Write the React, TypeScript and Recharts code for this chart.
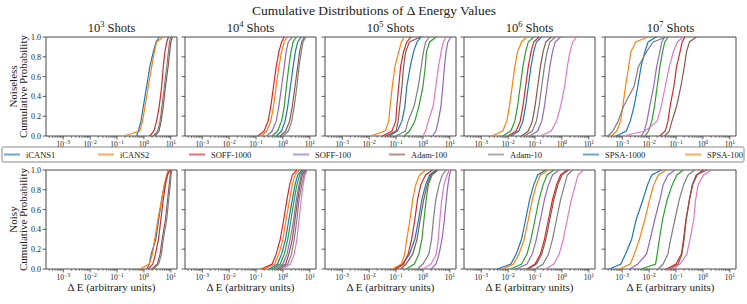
import { LineChart, Line, XAxis, YAxis, ReferenceArea } from 'recharts'

// cumulative probability levels at which each curve is sampled
const levels = [0, 0.05, 0.15, 0.3, 0.5, 0.7, 0.85, 0.95, 1]

// log10(ΔE) read at each level, per panel and line colour
const noiseless1e3 = {
  C0: [-0.27, -0.21, -0.11, -0.02, 0.1, 0.22, 0.35, 0.45, 0.57],
  C1: [-0.77, -0.15, -0.05, 0.04, 0.16, 0.29, 0.39, 0.47, 0.72],
  C3: [0.22, 0.37, 0.47, 0.57, 0.66, 0.72, 0.78, 0.85, 0.91],
  C5: [0.41, 0.56, 0.64, 0.72, 0.8, 0.9, 0.96, 1.0, 1.06],
  C7: [0.35, 0.51, 0.6, 0.67, 0.76, 0.85, 0.91, 0.95, 1.0],
}
const noiseless1e4 = {
  C3: [-0.93, -0.7, -0.55, -0.45, -0.35, -0.25, -0.15, -0.05, 0.05],
  C1: [-0.8, -0.6, -0.45, -0.35, -0.25, -0.15, -0.05, 0.05, 0.15],
  C4: [-0.6, -0.4, -0.25, -0.15, -0.05, 0.05, 0.12, 0.2, 0.35],
  C2: [-0.4, -0.2, -0.05, 0.05, 0.13, 0.22, 0.3, 0.38, 0.5],
  C0: [-0.25, -0.05, 0.08, 0.18, 0.28, 0.38, 0.46, 0.55, 0.68],
  C5: [-0.1, 0.1, 0.25, 0.35, 0.45, 0.55, 0.62, 0.7, 0.8],
  C7: [0.0, 0.2, 0.33, 0.42, 0.52, 0.6, 0.68, 0.75, 0.85],
}
const noiseless1e5 = {
  C0: [-1.26, -0.95, -0.78, -0.67, -0.6, -0.47, -0.35, -0.22, -0.07],
  C1: [-1.94, -1.4, -1.27, -1.22, -1.14, -1.04, -0.9, -0.8, -0.7],
  C2: [-0.7, -0.5, -0.3, -0.15, 0.0, 0.09, 0.13, 0.25, 0.49],
  C3: [-1.5, -1.15, -1.01, -0.97, -0.9, -0.83, -0.72, -0.6, -0.45],
  C4: [0.36, 0.48, 0.57, 0.67, 0.74, 0.8, 0.86, 0.93, 1.04],
  C5: [-1.38, -1.0, -0.92, -0.86, -0.78, -0.72, -0.64, -0.5, -0.1],
  C6: [0.0, 0.1, 0.2, 0.38, 0.48, 0.58, 0.68, 0.76, 0.86],
  C7: [-1.0, -0.65, -0.55, -0.33, -0.17, -0.06, 0.02, 0.1, 0.24],
}
const noiseless1e6 = {
  C0: [-1.9, -1.6, -1.45, -1.35, -1.25, -1.15, -1.05, -0.95, -0.75],
  C1: [-2.6, -2.2, -2.05, -1.95, -1.85, -1.75, -1.65, -1.5, -1.3],
  C2: [-2.2, -1.9, -1.75, -1.65, -1.55, -1.45, -1.35, -1.25, -1.05],
  C3: [-2.0, -1.7, -1.55, -1.45, -1.35, -1.25, -1.15, -1.05, -0.85],
  C4: [-1.2, -0.9, -0.75, -0.65, -0.55, -0.45, -0.35, -0.25, -0.05],
  C5: [-1.5, -1.25, -1.1, -1.0, -0.9, -0.8, -0.7, -0.6, -0.4],
  C6: [-0.8, -0.4, -0.2, -0.05, 0.1, 0.2, 0.3, 0.4, 0.55],
  C7: [-1.4, -1.1, -0.95, -0.85, -0.75, -0.65, -0.55, -0.45, -0.25],
}
const noiseless1e7 = {
  C0: [-3.22, -2.85, -2.7, -2.56, -2.42, -2.3, -2.16, -2.04, -1.73],
  C1: [-3.41, -3.2, -3.06, -2.98, -2.88, -2.76, -2.68, -2.5, -2.04],
  C2: [-2.16, -2.02, -1.9, -1.8, -1.7, -1.6, -1.5, -1.42, -1.29],
  C3: [-1.6, -1.4, -1.3, -1.22, -1.08, -0.98, -0.85, -0.77, -0.67],
  C4: [-2.29, -2.18, -2.08, -1.98, -1.83, -1.72, -1.6, -1.53, -1.42],
  C5: [-1.42, -1.25, -1.15, -0.98, -0.82, -0.69, -0.61, -0.5, -0.24],
  C6: [-2.97, -2.15, -1.7, -1.55, -1.4, -1.25, -1.1, -0.95, -0.73],
  C7: [-3.53, -3.35, -3.15, -2.95, -2.56, -2.4, -2.1, -1.85, -1.36],
}
const noisy1e3 = {
  C0: [0.1, 0.2, 0.27, 0.44, 0.55, 0.66, 0.76, 0.85, 0.91],
  C1: [-0.15, 0.2, 0.32, 0.4, 0.52, 0.66, 0.76, 0.86, 0.91],
  C3: [0.16, 0.33, 0.43, 0.54, 0.63, 0.72, 0.8, 0.88, 0.97],
  C5: [0.3, 0.5, 0.6, 0.68, 0.8, 0.88, 0.94, 0.98, 1.0],
  C7: [0.35, 0.55, 0.65, 0.72, 0.85, 0.92, 0.98, 1.01, 1.04],
}
const noisy1e4 = {
  C0: [-0.5, -0.2, -0.05, 0.1, 0.22, 0.35, 0.45, 0.55, 0.72],
  C1: [-0.7, -0.3, -0.15, 0.0, 0.12, 0.25, 0.35, 0.45, 0.62],
  C2: [-0.4, -0.1, 0.05, 0.18, 0.3, 0.42, 0.52, 0.62, 0.78],
  C3: [-0.8, -0.4, -0.25, -0.1, 0.03, 0.15, 0.25, 0.35, 0.52],
  C4: [-0.3, 0.0, 0.15, 0.27, 0.4, 0.5, 0.6, 0.68, 0.82],
  C5: [-0.2, 0.1, 0.22, 0.35, 0.45, 0.55, 0.64, 0.72, 0.86],
  C6: [0.0, 0.28, 0.42, 0.52, 0.6, 0.68, 0.75, 0.82, 0.9],
  C7: [-0.1, 0.18, 0.32, 0.42, 0.52, 0.6, 0.7, 0.78, 0.88],
}
const noisy1e5 = {
  C0: [-1.07, -0.76, -0.5, -0.3, -0.16, -0.04, 0.1, 0.25, 0.49],
  C1: [-1.13, -0.8, -0.68, -0.6, -0.48, -0.38, -0.27, -0.12, 0.11],
  C2: [-0.63, -0.32, -0.15, -0.04, 0.04, 0.12, 0.2, 0.34, 0.55],
  C3: [-1.0, -0.72, -0.55, -0.42, -0.3, -0.2, -0.08, 0.1, 0.36],
  C4: [0.3, 0.49, 0.6, 0.71, 0.8, 0.87, 0.93, 0.99, 1.04],
  C5: [-0.82, -0.63, -0.38, -0.22, -0.1, 0.03, 0.16, 0.3, 0.55],
  C6: [0.0, 0.3, 0.5, 0.57, 0.63, 0.7, 0.78, 0.9, 0.98],
  C7: [-0.2, 0.0, 0.22, 0.32, 0.39, 0.48, 0.6, 0.72, 0.86],
}
const noisy1e6 = {
  C0: [-2.4, -1.9, -1.7, -1.5, -1.35, -1.2, -1.05, -0.9, -0.6],
  C1: [-2.2, -1.8, -1.6, -1.4, -1.25, -1.1, -0.95, -0.8, -0.5],
  C2: [-1.9, -1.5, -1.3, -1.15, -1.0, -0.85, -0.7, -0.55, -0.3],
  C3: [-1.3, -1.0, -0.8, -0.65, -0.5, -0.35, -0.2, -0.05, 0.2],
  C4: [-1.7, -1.3, -1.1, -0.95, -0.8, -0.65, -0.5, -0.35, -0.1],
  C5: [-1.25, -0.95, -0.75, -0.6, -0.45, -0.3, -0.15, 0.0, 0.25],
  C6: [-0.6, -0.3, -0.1, 0.05, 0.2, 0.35, 0.5, 0.6, 0.8],
  C7: [-1.0, -0.7, -0.5, -0.35, -0.2, -0.05, 0.1, 0.2, 0.4],
}
const noisy1e7 = {
  C0: [-3.47, -3.05, -2.88, -2.65, -2.48, -2.23, -2.06, -1.9, -1.54],
  C1: [-3.1, -2.7, -2.55, -2.36, -2.16, -1.98, -1.83, -1.66, -1.36],
  C2: [-2.29, -1.76, -1.7, -1.62, -1.5, -1.33, -1.14, -0.97, -0.73],
  C3: [-1.36, -1.0, -0.8, -0.72, -0.63, -0.5, -0.38, -0.22, 0.01],
  C4: [-2.72, -2.42, -2.1, -1.96, -1.79, -1.6, -1.48, -1.3, -1.04],
  C5: [-1.23, -0.92, -0.78, -0.7, -0.62, -0.5, -0.4, -0.25, 0.14],
  C6: [-1.1, -0.85, -0.6, -0.48, -0.34, -0.27, -0.18, 0.02, 0.32],
  C7: [-1.67, -1.48, -1.3, -1.2, -1.04, -0.88, -0.72, -0.55, -0.3],
}

const shotExponents = [3, 4, 5, 6, 7]
const noiselessPanels = [noiseless1e3, noiseless1e4, noiseless1e5, noiseless1e6, noiseless1e7]
const noisyPanels = [noisy1e3, noisy1e4, noisy1e5, noisy1e6, noisy1e7]

const legendNames = ['iCANS1', 'iCANS2', 'SOFF-1000', 'SOFF-100', 'Adam-100', 'Adam-10', 'SPSA-1000', 'SPSA-100']
const legendColors = ['C0', 'C1', 'C3', 'C4', 'C5', 'C7', 'C0', 'C1']

const COLORS: Record<string, string> = {
  C0: '#1f77b4',
  C1: '#ff7f0e',
  C2: '#2ca02c',
  C3: '#d62728',
  C4: '#9467bd',
  C5: '#8c564b',
  C6: '#e377c2',
  C7: '#7f7f7f',
}
const ORDER = ['C0', 'C1', 'C2', 'C3', 'C4', 'C5', 'C6', 'C7']

const X_MIN = -3.64
const X_MAX = 1.23
const FONT = '"Liberation Serif", "DejaVu Serif", serif'
const INK = '#222'
const SPINE = '#333'

const majorTicks = [-3, -2, -1, 0, 1]
const minorTicks: number[] = []
for (let d = -4; d <= 1; d++) {
  for (let k = 2; k <= 9; k++) {
    const v = d + Math.log10(k)
    if (v > X_MIN && v < X_MAX) minorTicks.push(v)
  }
}
const xTicks = [...majorTicks, ...minorTicks].sort((a, b) => a - b)
const yTicks = [0, 0.2, 0.4, 0.6, 0.8, 1]

const PANEL_W = 131
const PANEL_H = 99
const COL_LEFT = [46, 185, 325, 464, 605]
const ROW_TOP = [37, 170]
const Y_AXIS_W = 40
const X_AXIS_H = 20
const PAD_TOP = 6
const PAD_RIGHT = 2

function XTick(props: any) {
  const { x, y, payload } = props
  const v = payload.value as number
  const major = Math.abs(v - Math.round(v)) < 1e-6
  if (!major) {
    return <line x1={x} x2={x} y1={y} y2={y + 2} stroke={SPINE} strokeWidth={0.6} />
  }
  const exp = Math.round(v)
  return (
    <g>
      <line x1={x} x2={x} y1={y} y2={y + 3.5} stroke={SPINE} strokeWidth={0.8} />
      <text x={x} y={y + 11} textAnchor="middle" fontSize={7.5} fill={INK} fontFamily={FONT}>
        10
        <tspan dy={-3.5} fontSize={5.5}>
          {exp < 0 ? `\u2212${-exp}` : `${exp}`}
        </tspan>
      </text>
    </g>
  )
}

function YTick(props: any) {
  const { x, y, payload, showLabels } = props
  return (
    <g>
      <line x1={x} x2={x - 3.5} y1={y} y2={y} stroke={SPINE} strokeWidth={0.8} />
      {showLabels && (
        <text x={x - 5} y={y + 3} textAnchor="end" fontSize={8} fill={INK} fontFamily={FONT}>
          {(payload.value as number).toFixed(1)}
        </text>
      )}
    </g>
  )
}

function Panel({ data, left, top, showYLabels }: { data: Record<string, number[]>; left: number; top: number; showYLabels: boolean }) {
  return (
    <div style={{ position: 'absolute', left: left - Y_AXIS_W, top: top - PAD_TOP }}>
      <LineChart
        width={Y_AXIS_W + PANEL_W + PAD_RIGHT}
        height={PANEL_H + X_AXIS_H + PAD_TOP}
        margin={{ top: PAD_TOP, right: PAD_RIGHT, bottom: 0, left: 0 }}
      >
        <XAxis
          type="number"
          dataKey="x"
          domain={[X_MIN, X_MAX]}
          allowDataOverflow
          ticks={xTicks}
          interval={0}
          tickSize={0}
          tickMargin={0}
          tickLine={false}
          axisLine={false}
          height={X_AXIS_H}
          tick={<XTick />}
        />
        <YAxis
          type="number"
          domain={[0, 1]}
          ticks={yTicks}
          interval={0}
          tickSize={0}
          tickMargin={0}
          tickLine={false}
          axisLine={false}
          width={Y_AXIS_W}
          tick={<YTick showLabels={showYLabels} />}
        />
        <ReferenceArea x1={X_MIN} x2={X_MAX} y1={0} y2={1} fill="none" stroke={SPINE} strokeWidth={0.9} />
        {ORDER.filter((k) => data[k]).map((k) => (
          <Line
            key={k}
            data={levels.map((p, i) => ({ x: data[k][i], y: p }))}
            dataKey="y"
            stroke={COLORS[k]}
            strokeWidth={1.2}
            dot={false}
            isAnimationActive={false}
          />
        ))}
      </LineChart>
    </div>
  )
}

export default function App() {
  const legendStarts = [4, 98, 189, 293, 389, 488, 583, 685]
  return (
    <div
      style={{
        position: 'fixed',
        left: 0,
        top: 0,
        width: 747,
        height: 304,
        background: '#fff',
        fontFamily: FONT,
        overflow: 'hidden',
      }}
    >
      {[noiselessPanels, noisyPanels].map((row, r) =>
        row.map((data, c) => (
          <Panel
            key={`${r}-${c}`}
            data={data as Record<string, number[]>}
            left={COL_LEFT[c]}
            top={ROW_TOP[r]}
            showYLabels={c === 0}
          />
        )),
      )}
      <svg
        width={747}
        height={304}
        style={{ position: 'absolute', left: 0, top: 0, pointerEvents: 'none' }}
        fontFamily={FONT}
      >
        <text x={374} y={15} textAnchor="middle" fontSize={13.5} fill={INK}>
          Cumulative Distributions of {'\u0394'} Energy Values
        </text>
        {shotExponents.map((e, c) => (
          <text key={e} x={COL_LEFT[c] + PANEL_W / 2} y={32} textAnchor="middle" fontSize={12.5} fill={INK}>
            10
            <tspan dy={-5} fontSize={8.5}>
              {e}
            </tspan>
            <tspan dy={5}> Shots</tspan>
          </text>
        ))}
        {['Noiseless', 'Noisy'].map((name, r) => {
          const cy = ROW_TOP[r] + PANEL_H / 2
          return (
            <g key={name}>
              <text transform={`translate(17,${cy}) rotate(-90)`} textAnchor="middle" fontSize={11} fill={INK}>
                {name}
              </text>
              <text transform={`translate(27,${cy}) rotate(-90)`} textAnchor="middle" fontSize={11} fill={INK}>
                Cumulative Probability
              </text>
            </g>
          )
        })}
        {COL_LEFT.map((l) => (
          <text key={l} x={l + PANEL_W / 2} y={291} textAnchor="middle" fontSize={11} fill={INK}>
            {'\u0394'} E (arbitrary units)
          </text>
        ))}
        <rect x={2} y={147} width={742} height={15} rx={1.5} fill="#fff" stroke="#888" strokeWidth={1} />
        {legendNames.map((name, i) => (
          <g key={name}>
            <line
              x1={legendStarts[i]}
              x2={legendStarts[i] + 16}
              y1={154.5}
              y2={154.5}
              stroke={COLORS[legendColors[i]]}
              strokeOpacity={0.65}
              strokeWidth={2}
            />
            <text x={legendStarts[i] + 22} y={157.5} fontSize={8.5} fill={INK}>
              {name}
            </text>
          </g>
        ))}
      </svg>
    </div>
  )
}
